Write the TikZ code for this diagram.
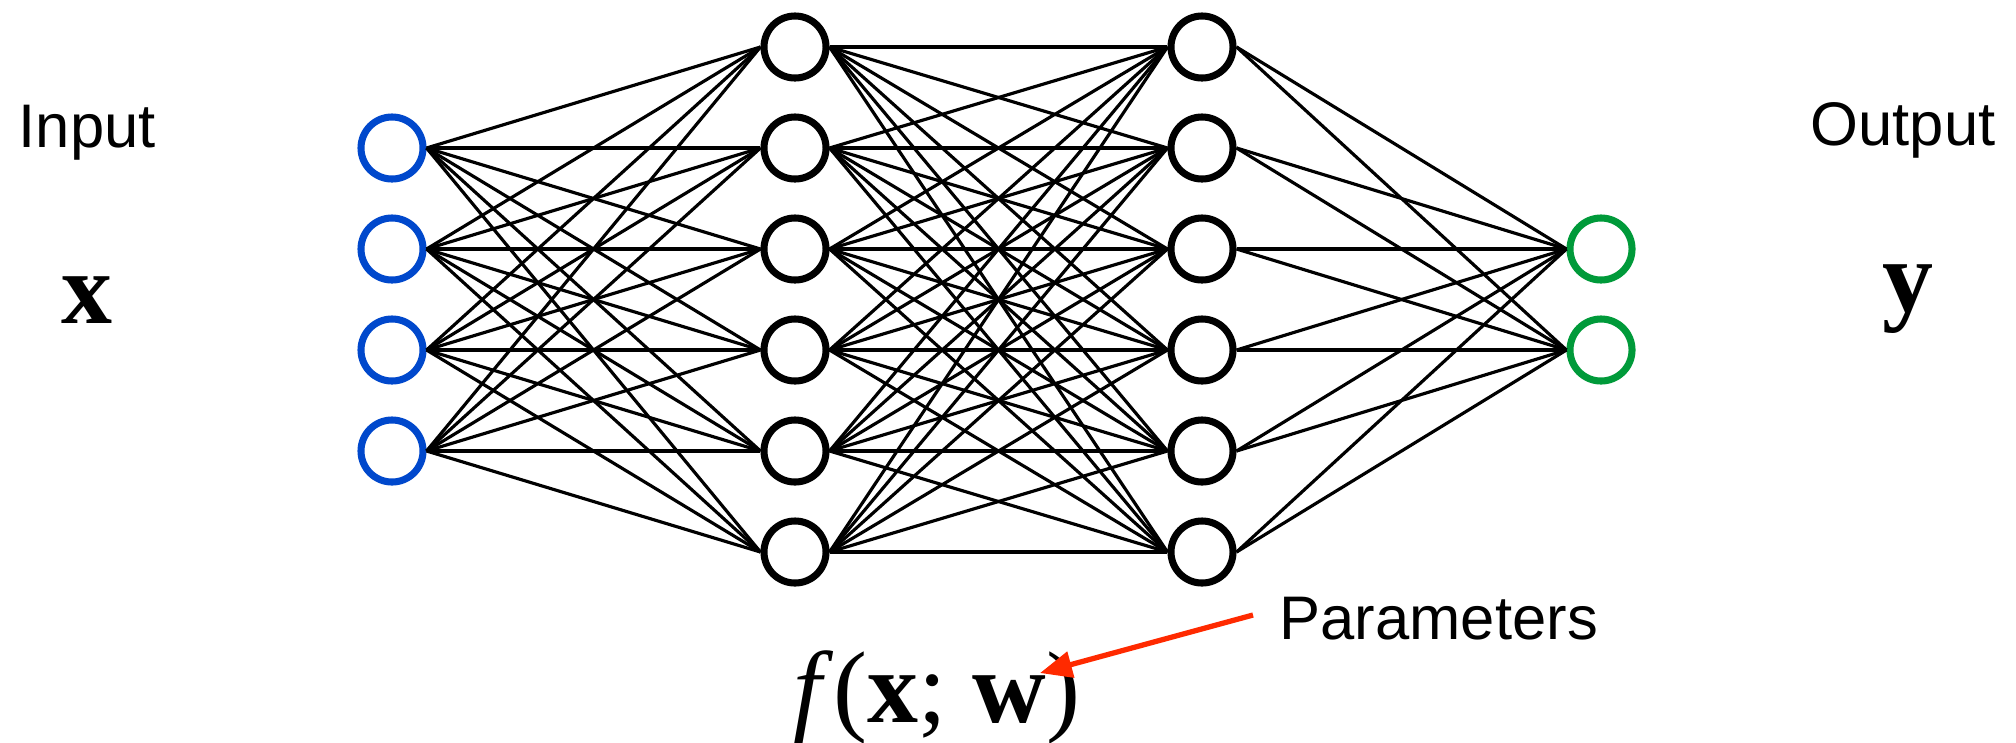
\documentclass[tikz,border=0pt]{standalone}
\usepackage{fontspec}
\setmainfont{Liberation Serif}
\newfontfamily\helv{Liberation Sans}
\usetikzlibrary{arrows.meta}
\definecolor{inblue}{RGB}{0,72,204}
\definecolor{outgreen}{RGB}{0,154,58}
\definecolor{arrred}{RGB}{255,42,0}
\tikzset{
  neuron/.style={circle,draw=black,line width=2pt,minimum size=0.62cm,inner sep=0pt,fill=white},
  inneuron/.style={neuron,draw=inblue},
  outneuron/.style={neuron,draw=outgreen},
  edge/.style={line width=0.9pt,black},
  sanslabel/.style={inner sep=0pt,font=\helv\fontsize{17.5}{20}\selectfont},
  mathlabel/.style={inner sep=0pt,font=\fontsize{29}{32}\selectfont}
}
\begin{document}
\begin{tikzpicture}[x=0.01cm,y=-0.01cm]
\useasboundingbox[fill=white] (0,0) rectangle (2016,742);
% nodes
\foreach \i/\y in {1/148,2/249,3/350,4/451} \node[inneuron] (i\i) at (392,\y) {};
\foreach \i/\y in {1/47,2/148,3/249,4/350,5/451,6/552} \node[neuron] (h\i) at (795,\y) {};
\foreach \i/\y in {1/47,2/148,3/249,4/350,5/451,6/552} \node[neuron] (g\i) at (1202,\y) {};
\foreach \i/\y in {1/249,2/350} \node[outneuron] (o\i) at (1601,\y) {};
% edges
\foreach \a in {1,...,4} \foreach \b in {1,...,6} \draw[edge] (i\a.east) -- (h\b.west);
\foreach \a in {1,...,6} \foreach \b in {1,...,6} \draw[edge] (h\a.east) -- (g\b.west);
\foreach \a in {1,...,6} \foreach \b in {1,2} \draw[edge] (g\a.east) -- (o\b.west);
% labels
\node[sanslabel,anchor=base west] (inlab) at (18,147) {Input};
\node[mathlabel,anchor=base] (xlab) at (87,323) {\textbf{x}};
\node[sanslabel,anchor=base west] (outlab) at (1810,145) {Output};
\node[mathlabel,anchor=base] (ylab) at (1908,311) {\textbf{y}};
\node[sanslabel,anchor=base west] (params) at (1279,639) {Parameters};
\node[mathlabel,anchor=base west] (func) at (793,722) {\textit{f}(\textbf{x}; \textbf{w})};
\coordinate (tip) at (1040,673);
\coordinate (tail) at (1253,615);
\draw[arrred,line width=1.5pt,-{Triangle[length=0.32cm,width=0.26cm]}] (tail) -- (tip);
\end{tikzpicture}
\end{document}
